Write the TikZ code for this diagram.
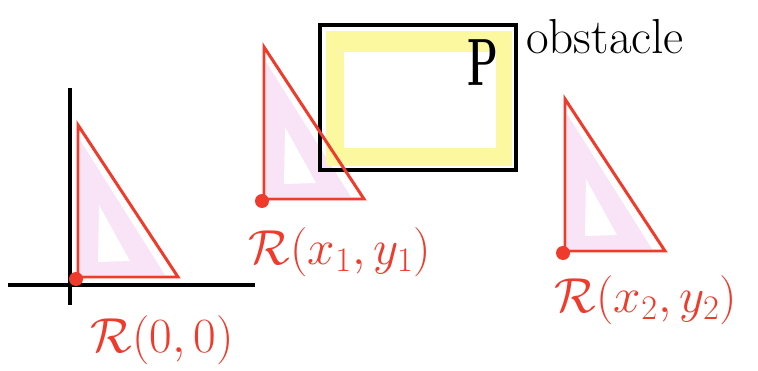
\RequirePackage{fix-cm}
\documentclass[tikz,border=0pt]{standalone}
\usepackage{fontspec}
\usepackage{amsmath,amssymb}
\usepackage{tikz}

\definecolor{penred}{HTML}{EE3B2B}
\definecolor{hlpink}{HTML}{F8E4F6}
\definecolor{hlyellow}{HTML}{FCF8A0}

\tikzset{
  axis/.style={line width=2.3pt, black},
  robot/.style={line width=1.7pt, penred, line join=miter},
  refdot/.style={circle, fill=penred, inner sep=0pt, minimum size=14*0.02cm},
  poslabel/.style={penred, font=\fontsize{28}{30}\selectfont},
}

\begin{document}
\begin{tikzpicture}[x=0.02cm,y=-0.02cm]
\useasboundingbox (0,0) rectangle (758,371);

% axes
\draw[axis] (8,285) -- (255,285);
\draw[axis] (70,88) -- (70,305);

% highlighted insides of the robot poses
\foreach \dx/\dy in {78/277, 264/199, 565/251}{
  \begin{scope}[shift={(\dx,\dy)}]
    \fill[hlpink] (2,-137) -- (2,-2) -- (87,-2) -- cycle;
    \fill[white] (21,-72) -- (20,-15) -- (52,-16) -- cycle;
  \end{scope}
}

% obstacle
\fill[hlyellow] (326,31) rectangle (512,166);
\fill[white] (344,52) rectangle (496,148);
\draw[line width=2.3pt] (320,25) rectangle (516,170);
\node[xscale=0.6] (P) at (483,63) {\fontsize{38}{40}\selectfont\textbf{P}};
\node[anchor=west] (obst) at (520,37) {\fontsize{28}{30}\selectfont obstacle};

% robot in its three poses
\foreach \dx/\dy/\nm in {78/277/r0, 264/199/r1, 565/251/r2}{
  \begin{scope}[shift={(\dx,\dy)}]
    \draw[robot] (0,-152) -- (0,0) -- (100,0) -- cycle;
    \node[refdot] (\nm) at (-2,2) {};
  \end{scope}
}

% labels
\node[poslabel] (l0) at (162,340) {$\mathcal{R}(0,0)$};
\node[poslabel] (l1) at (340,252) {$\mathcal{R}(x_1,y_1)$};
\node[poslabel] (l2) at (646,300) {$\mathcal{R}(x_2,y_2)$};
\end{tikzpicture}
\end{document}
